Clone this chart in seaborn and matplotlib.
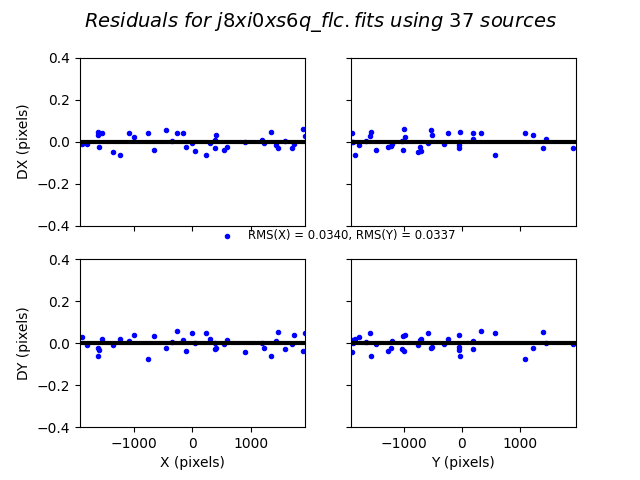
import matplotlib
matplotlib.use("Agg")
import matplotlib.pyplot as plt
import seaborn as sns
import numpy as np

# Source positions (pixels) and residuals
x_pos = [-1885, -1795, -1612, -1600, -1590, -1544, -1350, -1231, -1077, -985,
         -752, -650, -444, -342, -256, -154, -103, 2, 51, 239,
         308, 383, 393, 410, 547, 598, 906, 1191, 1214, 1333,
         1431, 1453, 1573, 1692, 1727, 1880, 1921]
dx_vs_x = [-0.011, -0.011, 0.044, 0.032, -0.025, 0.041, -0.049, -0.063, 0.041, 0.022,
           0.041, -0.040, 0.056, 0.003, 0.041, 0.041, -0.025, -0.008, -0.044, -0.063,
           -0.006, 0.008, -0.030, 0.032, -0.040, -0.025, -0.001, 0.008, -0.005, 0.046,
           -0.016, -0.030, 0.003, -0.030, -0.013, 0.060, 0.027]
dy_vs_x = [0.029, -0.007, -0.021, -0.062, -0.033, 0.019, -0.010, 0.019, 0.010, 0.038,
           -0.076, 0.033, -0.024, 0.005, 0.057, 0.014, -0.038, 0.048, 0.002, 0.048,
           0.019, -0.029, -0.001, -0.024, -0.005, 0.014, -0.043, 0.000, -0.024, -0.062,
           0.010, 0.052, -0.029, -0.005, 0.038, -0.038, 0.048]

y_pos = [-1902, -1897, -1876, -1847, -1778, -1655, -1588, -1567, -1479, -1276,
         -1229, -1203, -1034, -1010, -997, -983, -760, -721, -703, -588,
         -536, -514, -312, -241, -52, -48, -40, -36, 188, 192,
         328, 569, 1086, 1224, 1397, 1447, 1914]
dx_vs_y = [0.041, -0.001, 0.000, -0.063, -0.017, 0.004, 0.025, 0.045, -0.040, -0.025,
           -0.020, -0.012, 0.003, -0.040, 0.060, 0.022, -0.049, -0.025, -0.044, -0.008,
           0.056, 0.032, -0.013, 0.041, -0.016, 0.000, -0.030, 0.046, 0.041, 0.011,
           0.041, -0.063, 0.041, 0.032, -0.030, 0.011, -0.030]
dy_vs_y = [-0.043, 0.014, 0.001, 0.019, 0.029, 0.005, 0.048, -0.062, -0.005, -0.038,
           -0.024, 0.010, -0.029, 0.033, -0.038, 0.038, -0.010, 0.014, 0.019, 0.048,
           -0.024, -0.019, -0.005, 0.019, 0.038, -0.019, -0.033, -0.062, 0.010, -0.029,
           0.057, 0.048, -0.076, -0.024, 0.052, 0.000, -0.005]

title = r"$Residuals\ for\ j8xi0xs6q\_flc.fits\ using\ 37\ sources$"
legend_text = "RMS(X) = 0.0340, RMS(Y) = 0.0337"

fig, axes = plt.subplots(2, 2, figsize=(6.4, 4.8), dpi=100, sharex='col', sharey=True)

panels = [
    (axes[0, 0], x_pos, dx_vs_x),
    (axes[0, 1], y_pos, dx_vs_y),
    (axes[1, 0], x_pos, dy_vs_x),
    (axes[1, 1], y_pos, dy_vs_y),
]
for ax, xv, yv in panels:
    sns.scatterplot(x=xv, y=yv, ax=ax, color='blue', marker='o', s=10,
                    edgecolor='blue', linewidth=0.8, legend=False)
    ax.axhline(0, color='black', lw=3)

axes[0, 0].set_xlim(-1911, 1927)
axes[0, 1].set_xlim(-1919, 1972)
axes[0, 0].set_ylim(-0.4, 0.4)
axes[0, 0].set_yticks([-0.4, -0.2, 0.0, 0.2, 0.4])
axes[0, 0].set_xticks([-1000, 0, 1000])
axes[0, 1].set_xticks([-1000, 0, 1000])

axes[0, 0].set_ylabel("DX (pixels)")
axes[1, 0].set_ylabel("DY (pixels)")
axes[1, 0].set_xlabel("X (pixels)")
axes[1, 1].set_xlabel("Y (pixels)")

handle = axes[0, 0].collections[0]
fig.legend([handle], [legend_text], loc='center', frameon=False, fontsize='small',
           bbox_to_anchor=(0.524, 0.509), bbox_transform=fig.transFigure)

fig.suptitle(title, fontsize=14)
fig.savefig("out.png", dpi=100)
